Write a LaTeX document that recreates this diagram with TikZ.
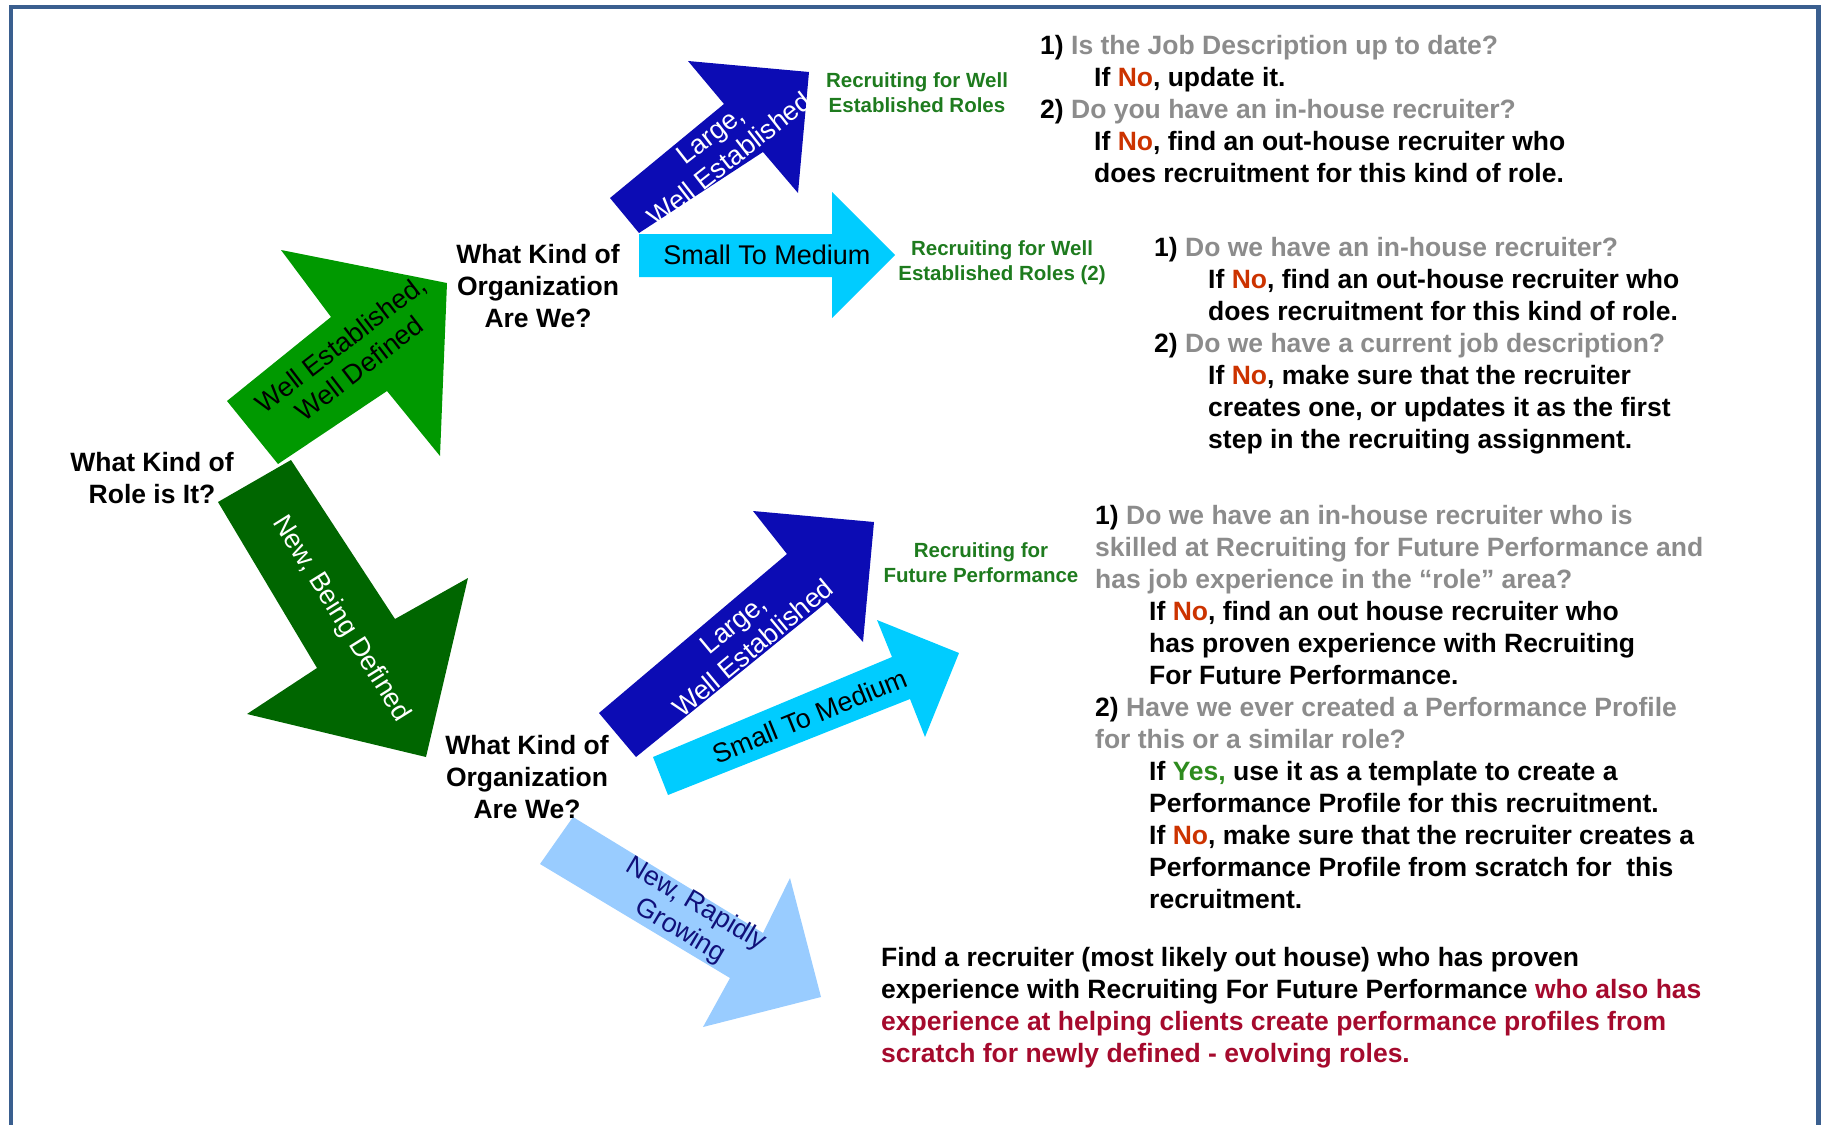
\documentclass[tikz,border=0pt]{standalone}
\usepackage{fontspec}
\setmainfont{Liberation Sans}
\usepackage{tikz}
\definecolor{cFrame}{HTML}{3A5F8F}
\definecolor{cWell}{HTML}{009900}
\definecolor{cNew}{HTML}{006600}
\definecolor{cLarge}{HTML}{0C0CB4}
\definecolor{cSmall}{HTML}{00CCFF}
\definecolor{cGrow}{HTML}{99CCFF}
\definecolor{cGrowTxt}{HTML}{10107A}
\definecolor{cLabel}{HTML}{1E7B1E}
\definecolor{cQ}{HTML}{8C8C8C}
\definecolor{cNo}{HTML}{CC3300}
\definecolor{cYes}{HTML}{2E8B1E}
\definecolor{cWarn}{HTML}{A50A2D}
\tikzset{
  arw/.style={draw=none},
  wellarw/.style={arw, fill=cWell},
  newarw/.style={arw, fill=cNew},
  largearw/.style={arw, fill=cLarge},
  smallarw/.style={arw, fill=cSmall},
  growarw/.style={arw, fill=cGrow},
  alab/.style={font=\fontsize{27}{31}\selectfont, align=center, inner sep=0pt},
  ask/.style={font=\fontsize{26.5}{32}\selectfont\bfseries, align=center, inner sep=0pt},
  outc/.style={font=\fontsize{20.5}{25}\selectfont\bfseries, text=cLabel, align=center, inner sep=0pt},
  body/.style={font=\fontsize{26.5}{32}\selectfont\bfseries, align=left, anchor=north west, inner sep=0pt},
  frame/.style={draw=cFrame, line width=4.5pt},
}
\newcommand{\qn}[1]{\textcolor{cQ}{#1}}
\newcommand{\ansno}{\textcolor{cNo}{No}}
\newcommand{\ansyes}{\textcolor{cYes}{Yes,}}
\newcommand{\indnt}{\hspace*{54pt}}

\begin{document}
\begin{tikzpicture}[x=1pt, y=-1pt]
  \useasboundingbox (0,0) rectangle (1822,1124);
  \draw[frame] (10.8,1140) -- (10.8,7) -- (1818.4,7) -- (1818.4,1140);

  % block arrows
  \fill[wellarw] (227,401) -- (331,317) -- (281,250) -- (447,283) -- (440,456) -- (387,391) -- (278,464) -- cycle;
  \fill[newarw] (291,460) -- (395,619) -- (468,578) -- (426,757) -- (247,714) -- (317,668) -- (218,502) -- cycle;
  \fill[largearw] (610,198) -- (724,104) -- (688,61) -- (809,72) -- (798,193) -- (763,152) -- (639,233) -- cycle;
  \fill[smallarw] (639,234) -- (832,234) -- (832,192) -- (895,255) -- (832,318) -- (832,277) -- (639,277) -- cycle;
  \fill[largearw] (599,713) -- (787,554) -- (753,511) -- (874,522) -- (863,642) -- (827,602) -- (636,757) -- cycle;
  \fill[smallarw] (653,757) -- (892,657) -- (877,620) -- (959,653) -- (925,737) -- (910,699) -- (668,795) -- cycle;
  \fill[growarw] (573,817) -- (540,864) -- (730,978) -- (703,1027) -- (821,997) -- (790,878) -- (763,933) -- cycle;

  \node[alab, rotate=37.5] (wellLbl) at (350,356) {Well Established,\\Well Defined};
  \node[alab, rotate=-58, text=white] (newLbl) at (341,619) {New, Being Defined};
  \node[alab, rotate=38, text=white] (largeLbl) at (720,147) {Large,\\Well Established};
  \node[alab] (smallLbl) at (767,255) {Small To Medium};
  \node[alab, rotate=39.7, text=white] (largeLblB) at (743,636) {Large,\\Well Established};
  \node[alab, rotate=22.3] (smallLblB) at (810,716) {Small To Medium};
  \node[alab, rotate=-30.6, text=cGrowTxt] (growLbl) at (688,918) {New, Rapidly\\Growing};

  % questions
  \node[ask] (role) at (152,478) {What Kind of\\Role is It?};
  \node[ask] (orgA) at (538,286) {What Kind of\\Organization\\Are We?};
  \node[ask] (orgB) at (527,777) {What Kind of\\Organization\\Are We?};

  % outcomes
  \node[outc] (wellRoles) at (917,93) {Recruiting for Well\\Established Roles};
  \node[outc] (wellRolesB) at (1002,263) {Recruiting for Well\\Established Roles (2)};
  \node[outc] (futurePerf) at (981,563) {Recruiting for\\Future Performance};

  \node[body] (stepsA) at (1040,35) {1) \qn{Is the Job Description up to date?}\\
    \indnt If \ansno, update it.\\
    2) \qn{Do you have an in-house recruiter?}\\
    \indnt If \ansno, find an out-house recruiter who\\
    \indnt does recruitment for this kind of role.};
  \node[body] (stepsB) at (1154,237) {1) \qn{Do we have an in-house recruiter?}\\
    \indnt If \ansno, find an out-house recruiter who\\
    \indnt does recruitment for this kind of role.\\
    2) \qn{Do we have a current job description?}\\
    \indnt If \ansno, make sure that the recruiter\\
    \indnt creates one, or updates it as the first\\
    \indnt step in the recruiting assignment.};
  \node[body] (stepsC) at (1095,505) {1) \qn{Do we have an in-house recruiter who is}\\
    \qn{skilled at Recruiting for Future Performance and}\\
    \qn{has job experience in the “role” area?}\\
    \indnt If \ansno, find an out house recruiter who\\
    \indnt has proven experience with Recruiting\\
    \indnt For Future Performance.\\
    2) \qn{Have we ever created a Performance Profile}\\
    \qn{for this or a similar role?}\\
    \indnt If \ansyes{} use it as a template to create a\\
    \indnt Performance Profile for this recruitment.\\
    \indnt If \ansno, make sure that the recruiter creates a\\
    \indnt Performance Profile from scratch for~ this\\
    \indnt recruitment.};
  \node[body] (stepsD) at (881,947) {Find a recruiter (most likely out house) who has proven\\
    experience with Recruiting For Future Performance \textcolor{cWarn}{who also has}\\
    \textcolor{cWarn}{experience at helping clients create performance profiles from}\\
    \textcolor{cWarn}{scratch for newly defined - evolving roles.}};
\end{tikzpicture}
\end{document}
